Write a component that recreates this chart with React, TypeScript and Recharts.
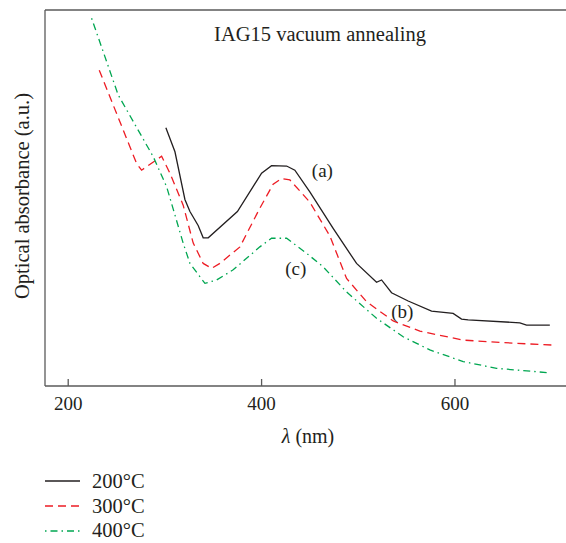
import React from 'react';
import { LineChart, Line, XAxis, YAxis, ReferenceLine, ReferenceDot, Label } from 'recharts';

// Wavelength (nm) and absorbance (a.u.)
const lambda200 = [301, 310.4, 320.7, 325.9, 334.4, 339.6, 344.8, 375, 400, 410.3, 425.9, 434.4, 449.9, 474, 498.2, 518.9, 524.1, 534.4, 551.6, 575.8, 598.1, 606.8, 613.6, 667.1, 674, 698.1];
const abs200 = [68.7, 62.3, 49.6, 46.4, 42.7, 39.4, 39.4, 46.4, 56.6, 58.6, 58.5, 57.4, 51.6, 41.9, 32.6, 27.6, 28.2, 24.8, 22.6, 19.9, 19.3, 17.8, 17.6, 16.8, 16.2, 16.2];

const lambda300 = [232.1, 270.7, 275.9, 296.6, 305.2, 318.9, 329.3, 339.6, 348.3, 356.9, 377.6, 398.2, 412, 420.7, 429.3, 449.9, 470.6, 487.9, 508.6, 536.1, 563.7, 608.5, 660.2, 699.9];
const abs300 = [84.0, 59.2, 57.4, 61.1, 56.6, 48.1, 38.0, 32.6, 31.3, 32.6, 37.0, 47.3, 53.7, 55.2, 54.8, 48.9, 39.9, 28.6, 22.4, 17.3, 14.6, 12.2, 11.4, 10.9];

const lambda400 = [224.2, 251.7, 287.9, 301.8, 318.9, 325.9, 341.4, 353.5, 370.6, 398.2, 410.3, 425.9, 446.5, 463.7, 487.9, 518.9, 546.4, 574, 608.5, 643, 698.1];
const abs400 = [97.8, 77.4, 61.0, 53.0, 38.0, 32.6, 27.3, 28.2, 30.9, 37.0, 39.3, 39.3, 35.3, 31.7, 25.0, 18.0, 13.1, 9.6, 6.5, 4.7, 3.5];

const xTicks = [200, 400, 600];
const seriesNames = ['200\u00b0C', '300\u00b0C', '400\u00b0C'];

const FONT = '"Liberation Serif", "Times New Roman", serif';
const TEXT = '#231f20';
const AXIS = '#5a5a5a';
const BLACK = '#231f20';
const RED = '#ed1c24';
const GREEN = '#00a651';

const zip = (xs: number[], ys: number[]) => xs.map((x, i) => ({ lambda: x, value: ys[i] }));

const data200 = zip(lambda200, abs200);
const data300 = zip(lambda300, abs300);
const data400 = zip(lambda400, abs400);

const styles = [
  { color: BLACK, dash: undefined },
  { color: RED, dash: '8 5' },
  { color: GREEN, dash: '1.5 4 7 4' },
];

const XTick = ({ x, y, payload }: any) => (
  <g>
    <line x1={x} x2={x} y1={y - 7} y2={y} stroke={AXIS} strokeWidth={1.3} />
    <text x={x} y={y + 24} textAnchor="middle" fontSize={19} fill={TEXT} fontFamily={FONT}>
      {payload.value}
    </text>
  </g>
);

const annotation = (value: string) => (
  <Label value={value} position="center" fontSize={19} fill={TEXT} fontFamily={FONT} />
);

export default function App() {
  return (
    <div style={{ position: 'fixed', left: 0, top: 0, width: 566, height: 543, overflow: 'hidden', background: '#fff' }}>
      <LineChart width={571} height={460} margin={{ top: 10, right: 0, left: 0, bottom: 14 }}>
        <XAxis
          type="number"
          dataKey="lambda"
          domain={[176, 720]}
          ticks={xTicks}
          allowDataOverflow
          height={60}
          tickSize={0}
          tickMargin={0}
          tickLine={false}
          tick={<XTick />}
          axisLine={{ stroke: AXIS, strokeWidth: 1.3 }}
          label={{
            content: () => (
              <text x={308} y={443} textAnchor="middle" fontSize={20} fill={TEXT} fontFamily={FONT}>
                <tspan fontStyle="italic">λ</tspan> (nm)
              </text>
            ),
          }}
        />
        <YAxis
          type="number"
          domain={[0, 100]}
          width={45}
          tick={false}
          tickLine={false}
          axisLine={{ stroke: AXIS, strokeWidth: 1.3 }}
          label={{
            content: () => (
              <text transform="translate(28.5,196) rotate(-90)" textAnchor="middle" fontSize={20.5} fill={TEXT} fontFamily={FONT}>
                Optical absorbance (a.u.)
              </text>
            ),
          }}
        />
        <ReferenceLine y={100} stroke={AXIS} strokeWidth={1.3} />
        <Line data={data200} dataKey="value" type="linear" stroke={BLACK} strokeWidth={1.3} dot={false} isAnimationActive={false} />
        <Line data={data300} dataKey="value" type="linear" stroke={RED} strokeWidth={1.3} strokeDasharray="8 5" dot={false} isAnimationActive={false} />
        <Line data={data400} dataKey="value" type="linear" stroke={GREEN} strokeWidth={1.3} strokeDasharray="1.5 4 7 4" dot={false} isAnimationActive={false} />
        <ReferenceDot x={462.9} y={57.4} r={0} stroke="none" fill="none" label={annotation('(a)')} />
        <ReferenceDot x={545.6} y={20.0} r={0} stroke="none" fill="none" label={annotation('(b)')} />
        <ReferenceDot x={435.3} y={31.3} r={0} stroke="none" fill="none" label={annotation('(c)')} />
      </LineChart>
      <svg width={566} height={543} style={{ position: 'absolute', left: 0, top: 0, pointerEvents: 'none' }}>
        <text x={320} y={41} textAnchor="middle" fontSize={20.5} fill={TEXT} fontFamily={FONT}>
          IAG15 vacuum annealing
        </text>
        {seriesNames.map((name, i) => (
          <g key={name}>
            <line
              x1={45}
              x2={80}
              y1={481 + i * 25}
              y2={481 + i * 25}
              stroke={styles[i].color}
              strokeWidth={1.3}
              strokeDasharray={styles[i].dash}
            />
            <text x={92} y={488 + i * 24.5} fontSize={20.5} fill={TEXT} fontFamily={FONT}>
              {name}
            </text>
          </g>
        ))}
      </svg>
    </div>
  );
}
